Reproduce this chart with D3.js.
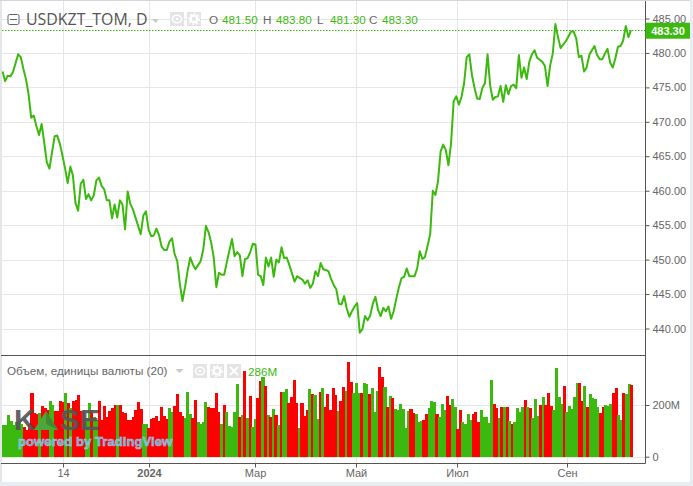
<!DOCTYPE html>
<html><head><meta charset="utf-8">
<script src="https://cdnjs.cloudflare.com/ajax/libs/d3/7.8.5/d3.min.js"></script>
<style>html,body{margin:0;padding:0;background:#fff}svg{display:block}text{font-family:"Liberation Sans",Arial,sans-serif}</style>
</head><body><svg id="c" width="693" height="486"></svg>
<script>
const closes=[477.3,475.9,476.7,476.6,477.2,478.5,479.8,479.4,477.7,476.2,474,470.6,470.9,469.4,468.1,469.7,467,464.1,463.2,465.6,467.9,468,466.8,465.1,463.2,461.1,463.5,462.2,458.2,457.1,461,461.6,458.8,459.5,458.6,459.3,461.5,461.9,460.7,460.2,458.6,458.6,456,458,456.1,458.6,458,454.4,459.9,458.1,457.3,456.1,454.9,453.7,456.4,457,454.4,453.4,453.5,454.5,453.6,451.9,451.4,451.4,452.6,453.1,450.8,449.8,446.5,444,446,448.4,450.3,449.3,448.6,449.2,449.8,451.5,454.9,454,452.5,450.3,446,448.1,447.8,447.8,449.6,451.3,453,450.5,451.1,450.6,447.6,450.1,450.2,451.1,452.3,452.2,447.8,447.6,446.3,450.3,449,450.3,447.5,450,449.6,451.8,450.2,450.3,449.2,448,446.8,447.6,447.3,447.1,446.5,447,445.9,446.5,448.3,447.6,449.5,448.6,448.5,448.3,447.2,446.3,445.7,443.6,443.5,444.7,442.9,441.7,442.5,443.2,443.7,439.4,439.9,441.8,441.2,441.9,443.6,444.6,442.7,441.8,443,442.5,443.2,441.4,442.5,444.3,446,447.3,447.5,448.7,447.6,447.6,447.6,448.7,451.2,450.1,450.4,452,453.7,460,459.4,461.4,465.7,466.7,465.9,463.7,466.9,473,473.7,472.5,473.6,475.6,479.4,479.8,476.8,474.9,473.4,473.3,474.9,475.6,479.8,475.3,473.2,473.6,473.7,475.2,472.9,475.3,474,475.2,475.4,474.9,479.7,476.4,477.9,476.2,478.7,479.8,480.4,479.3,479,478.7,478.1,475.2,478.2,479.9,484.2,482.3,480.7,481.2,481.7,482.4,483.1,483.1,482.1,479.4,479.6,477.3,477.9,479.7,480.4,481,479.7,479.1,479.1,479.9,480.6,478.6,477.9,479.2,480.9,481,481.8,483.9,482.3,483.3];
const volumes=[124,124,161,139,124,135,140,128,115,105,125,248,168,165,168,195,190,180,215,200,175,175,215,210,248,206,190,215,218,240,175,175,150,209,180,155,142,215,142,196,155,177,187,200,200,200,173,168,142,142,155,180,212,183,126,126,110,146,148,157,138,193,157,146,187,174,196,242,174,157,148,250,165,151,219,135,126,135,212,193,187,190,248,174,126,200,172,119,115,173,281,154,161,332,150,235,115,146,227,293,308,273,161,154,184,161,123,250,250,262,208,231,297,208,111,208,157,181,262,243,239,146,250,266,192,243,181,266,239,177,215,270,254,366,289,246,285,246,246,285,281,243,266,173,254,347,308,270,192,235,227,184,181,204,184,111,177,184,169,165,134,138,142,165,188,215,212,165,154,204,181,235,200,223,192,107,181,134,126,165,142,165,173,134,181,154,154,130,297,204,188,150,192,192,192,138,126,134,188,173,192,219,192,188,150,223,157,200,231,200,246,196,181,343,231,204,273,173,196,184,231,285,285,215,273,192,243,227,223,192,169,192,200,196,204,246,266,161,142,246,243,281,277];
const volumeUp=[1,1,1,1,1,1,1,1,0,0,0,0,0,0,1,0,0,0,1,1,0,0,0,0,1,0,1,0,0,0,0,0,1,1,0,1,1,0,0,0,0,0,0,0,1,0,0,0,0,0,0,0,0,0,1,1,0,0,0,0,0,0,0,0,1,1,0,0,0,0,1,1,1,0,0,1,1,1,1,0,0,0,0,0,1,0,1,1,1,1,1,0,1,0,1,0,1,1,0,0,1,0,1,0,1,0,1,0,1,1,0,0,0,0,1,0,0,0,1,0,1,1,0,1,0,0,0,0,0,1,0,0,1,0,0,1,1,1,0,1,1,0,1,1,1,0,0,1,0,1,0,1,1,1,1,1,1,0,0,1,1,1,0,0,1,1,1,0,1,1,1,0,0,1,1,0,0,1,1,1,1,0,0,0,1,1,1,1,1,0,0,1,0,1,0,1,0,1,1,1,1,0,1,0,1,1,1,0,1,0,0,0,1,1,1,1,0,1,1,1,1,1,0,0,1,0,1,1,1,1,0,0,1,1,1,0,0,1,1,0,1,1,0,1];
const priceTicks=[485,480,475,470,465,460,455,450,445,440];
const volumeTicks=[0,200];
const timeLabels=["14","2024","Мар","Май","Июл","Сен"];
const timeBars=[23,56,97,136,175,217];
const ohlc=[["O","481.50"],["H","483.80"],["L","481.30"],["C","483.30"]];
const lastPrice=483.30, lastVolume="286M";
const symbol="USDKZT_TOM, D", volumeTitle="Объем, единицы валюты (20)";

const GREEN="#3cb90e",RED="#ff0000",GRID="#e6e6e6",AX="#555",TXT="#666";
const svg=d3.select("#c");
const L=2,AXR=645.5,T=1,SEP=355,B=463;
const n=closes.length;
const x=d3.scaleLinear().domain([0,n-1]).range([2.5,631]);
const xv=d3.scaleLinear().domain([0,volumes.length-1]).range([3.2,631.4]);
const y=d3.scaleLinear().domain([440,485]).range([328.5,18.5]);
const yv=d3.scaleLinear().domain([0,200]).range([456.7,405]);
const bw=(xv(1)-xv(0));
svg.append("rect").attr("width",693).attr("height",486).attr("fill","#fff");
const g=svg.append("g").attr("stroke",GRID).attr("stroke-width",1);
g.selectAll(".h").data(priceTicks).join("line").attr("x1",L).attr("x2",AXR).attr("y1",d=>Math.round(y(d))+.5).attr("y2",d=>Math.round(y(d))+.5);
g.selectAll(".hv").data(volumeTicks).join("line").attr("x1",L).attr("x2",AXR).attr("y1",d=>Math.round(yv(d))+.5).attr("y2",d=>Math.round(yv(d))+.5);
const gx=timeBars.map(i=>Math.round(xv(i))+.5);
g.selectAll(".v").data(gx).join("line").attr("x1",d=>d).attr("x2",d=>d).attr("y1",T).attr("y2",B);
svg.append("g").attr("shape-rendering","crispEdges").selectAll("rect").data(volumes).join("rect")
 .attr("x",(d,i)=>xv(i)-bw/2).attr("width",bw+.5).attr("y",d=>yv(d)).attr("height",d=>yv(0)-yv(d))
 .attr("fill",(d,i)=>volumeUp[i]?GREEN:RED);
const wm=svg.append("g");
wm.append("text").attr("x",14).attr("y",430).attr("font-size",30).attr("font-weight","bold").attr("fill","#55565a").attr("opacity",.92).text("K");
wm.append("path").attr("d",d3.line()([[34,430],[46,411],[58,430]])+"Z").attr("fill","#4da63c");
wm.append("path").attr("d",d3.line()([[46,411],[58,430],[46,424]])+"Z").attr("fill","#3f8a33");
wm.append("text").attr("x",60).attr("y",430).attr("font-size",30).attr("font-weight","bold").attr("fill","#55565a").attr("opacity",.92).text("SE");
wm.append("text").attr("x",18).attr("y",446).attr("font-size",13.2).attr("font-weight","bold").attr("fill","#5bbde6").attr("stroke","#a8dff5").attr("stroke-width",.5).attr("opacity",.9).text("powered by TradingView");
svg.append("path").datum(closes).attr("fill","none").attr("stroke",GREEN).attr("stroke-width",2).attr("stroke-linejoin","round")
 .attr("d",d3.line().x((d,i)=>x(i)).y(d=>y(d)));
svg.append("line").attr("x1",L).attr("x2",AXR).attr("y1",Math.round(y(lastPrice))+.5).attr("y2",Math.round(y(lastPrice))+.5)
 .attr("stroke",GREEN).attr("stroke-dasharray","1.5 1.5");
const fr=svg.append("g");
fr.append("rect").attr("x",0).attr("y",482).attr("width",693).attr("height",4).attr("fill","#e9edf1");
fr.append("rect").attr("x",690).attr("y",0).attr("width",3).attr("height",486).attr("fill","#e9edf1");
fr.append("line").attr("x1",1).attr("x2",1).attr("y1",0).attr("y2",482).attr("stroke","#c9cdd6");
fr.append("line").attr("x1",0).attr("x2",690).attr("y1",.5).attr("y2",.5).attr("stroke","#d4d6dc");
fr.append("line").attr("x1",1).attr("x2",AXR).attr("y1",SEP+.5).attr("y2",SEP+.5).attr("stroke",AX);
function style(a){a.select(".domain").attr("stroke",AX);a.selectAll(".tick line").attr("stroke",AX);a.selectAll(".tick text").attr("fill",TXT).attr("font-size",11);}
const ya=svg.append("g").attr("transform",`translate(${AXR},0)`).call(d3.axisRight(y).tickValues(priceTicks).tickSize(4).tickPadding(3).tickFormat(d3.format(".2f")));
ya.select(".domain").remove();ya.call(style);
const yb=svg.append("g").attr("transform",`translate(${AXR},0)`).call(d3.axisRight(yv).tickValues(volumeTicks).tickSize(4).tickPadding(3).tickFormat(d=>d?d+"M":"0"));
yb.select(".domain").remove();yb.call(style);
svg.append("line").attr("x1",AXR).attr("x2",AXR).attr("y1",1).attr("y2",B+.5).attr("stroke",AX);
const xs=d3.scaleOrdinal().domain(timeLabels).range(gx);
const xa=svg.append("g").attr("transform",`translate(0,${B+.5})`).call(d3.axisBottom(d3.scalePoint().domain(timeLabels).range([0,1])).tickSize(4).tickPadding(2));
xa.selectAll(".tick").attr("transform",d=>`translate(${xs(d)},0)`);
xa.select(".domain").attr("d",`M1,0H${AXR}`);xa.call(style);
xa.selectAll(".tick text").filter(d=>d==="2024").attr("font-weight","bold");
svg.append("rect").attr("x",AXR).attr("y",y(lastPrice)-7.5).attr("width",44.5).attr("height",16).attr("fill",GREEN);
svg.append("text").attr("x",668).attr("y",y(lastPrice)+4.6).attr("text-anchor","middle").attr("fill","#fff").attr("font-size",11).attr("font-weight","bold").text(lastPrice.toFixed(2));
const lg=svg.append("g");
lg.append("rect").attr("x",8).attr("y",14.5).attr("width",11).attr("height",10).attr("rx",1.5).attr("fill","#fff").attr("stroke","#666");
lg.append("line").attr("x1",10).attr("x2",17).attr("y1",19.5).attr("y2",19.5).attr("stroke","#666");
lg.append("text").attr("x",26).attr("y",25).attr("font-size",15.9).attr("fill","#555").style("font-family","'Open Sans'").text(symbol);
lg.append("path").attr("d","M152,19h7l-3.5,4z").attr("fill","#c8c8c8");
function btn(px,py,s,k){
 lg.append("rect").attr("x",px).attr("y",py).attr("width",s).attr("height",s).attr("fill","#e4e4e4");
 const cx=px+s/2,cy=py+s/2;
 if(k==="eye"){lg.append("ellipse").attr("cx",cx).attr("cy",cy).attr("rx",s*.33).attr("ry",s*.27).attr("fill","none").attr("stroke","#fff").attr("stroke-width",1.5);lg.append("circle").attr("cx",cx).attr("cy",cy).attr("r",1.3).attr("fill","#fff");}
 if(k==="gear"){lg.append("circle").attr("cx",cx).attr("cy",cy).attr("r",s*.24).attr("fill","none").attr("stroke","#fff").attr("stroke-width",2.4);lg.append("circle").attr("cx",cx).attr("cy",cy).attr("r",s*.38).attr("fill","none").attr("stroke","#fff").attr("stroke-width",1.4).attr("stroke-dasharray","2 2");}
 if(k==="x"){lg.append("path").attr("d",`M${px+3},${py+3}L${px+s-3},${py+s-3}M${px+s-3},${py+3}L${px+3},${py+s-3}`).attr("stroke","#fff").attr("stroke-width",1.8);}
}
btn(170,12,14,"eye");btn(187,12,14,"gear");
const ohlcX=[209,263,317,369];
ohlc.forEach((d,i)=>{
 lg.append("text").attr("x",ohlcX[i]).attr("y",24).attr("font-size",11.7).attr("fill","#666").text(d[0]);
 lg.append("text").attr("x",ohlcX[i]+13).attr("y",24).attr("font-size",11.7).attr("fill",GREEN).text(d[1]);
});
lg.append("text").attr("x",7).attr("y",375).attr("font-size",11.7).attr("fill","#666").text(volumeTitle);
lg.append("path").attr("d","M175.5,369h8l-4,4z").attr("fill","#c8c8c8");
btn(193,364,14,"eye");btn(210,364,14,"gear");btn(227,364,14,"x");
lg.append("text").attr("x",248).attr("y",376).attr("font-size",11.7).attr("fill",GREEN).text(lastVolume);
</script></body></html>
